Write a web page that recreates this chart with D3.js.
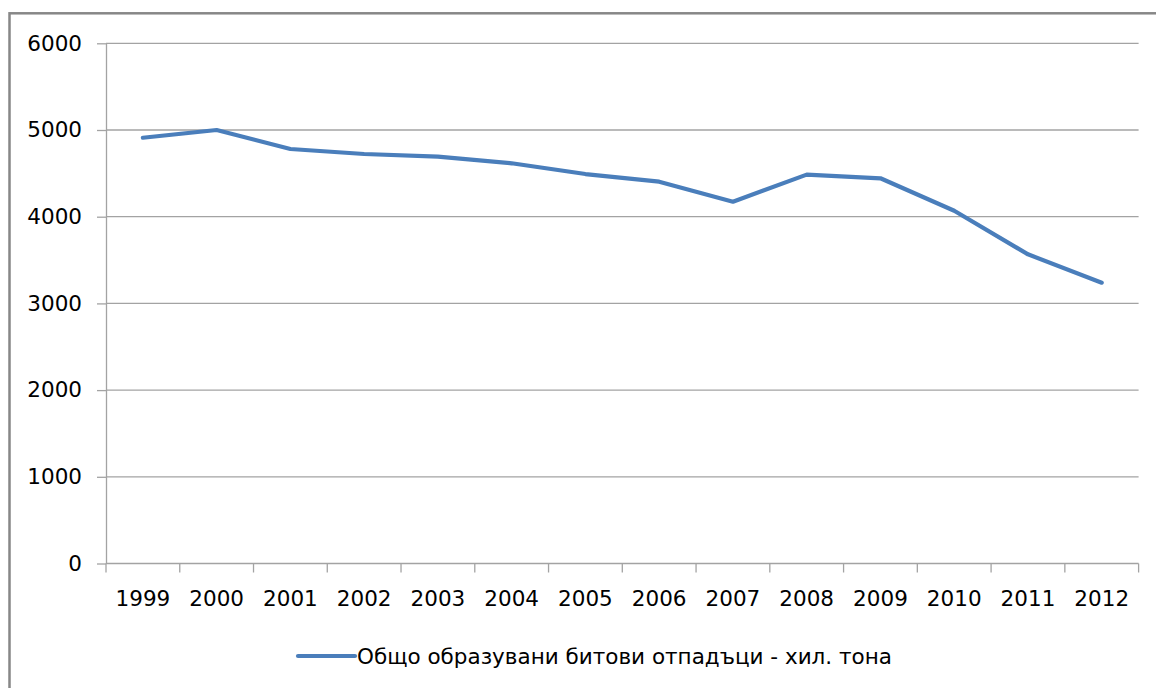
<!DOCTYPE html>
<html>
<head>
<meta charset="utf-8">
<script src="https://cdn.jsdelivr.net/npm/d3@7"></script>
<style>
  html, body { margin: 0; padding: 0; background: #fff; }
  svg { display: block; }
</style>
</head>
<body>
<svg width="1156" height="688"></svg>
<script>
// Years on the category axis
const years = ["1999", "2000", "2001", "2002", "2003", "2004", "2005",
  "2006", "2007", "2008", "2009", "2010", "2011", "2012"];
// Municipal waste generated, thousand tonnes
const wasteKt = [4911, 5000, 4781, 4723, 4692, 4616, 4492,
  4404, 4173, 4485, 4443, 4069, 3566, 3239];
const yTicks = [0, 1000, 2000, 3000, 4000, 5000, 6000];
const seriesName = "Общо образувани битови отпадъци - хил. тона";

const width = 1156;
const height = 688;
const margin = { top: 43.3, right: 17.4, bottom: 124.5, left: 106 };
const font = "DejaVu Sans";
const fontSize = "21.5px";
const lineColor = "#4a7ebb";
const gridColor = "#a3a3a3";

const svg = d3.select("svg");

// chart frame (only top and left edge show in the crop)
svg.append("rect")
  .attr("x", 9.5)
  .attr("y", 13.3)
  .attr("width", width + 20)
  .attr("height", height + 20)
  .attr("fill", "none")
  .attr("stroke", "#878787")
  .attr("stroke-width", 2.5);

const xScale = d3.scaleBand()
  .domain(years)
  .range([margin.left, width - margin.right]);

const yScale = d3.scaleLinear()
  .domain([0, 6000])
  .range([height - margin.bottom, margin.top]);

// horizontal gridlines
svg.append("g")
  .attr("class", "grid")
  .selectAll("line")
  .data(yTicks.filter(t => t > 0))
  .join("line")
  .attr("x1", margin.left)
  .attr("x2", width - margin.right)
  .attr("y1", d => yScale(d))
  .attr("y2", d => yScale(d))
  .attr("stroke", gridColor)
  .attr("stroke-width", 1.3);

// Y axis
const yAxis = svg.append("g")
  .attr("class", "y-axis")
  .attr("transform", `translate(${margin.left},0)`)
  .call(d3.axisLeft(yScale)
    .tickValues(yTicks)
    .tickSize(9)
    .tickPadding(15)
    .tickSizeOuter(0)
    .tickFormat(d3.format("d")));
yAxis.select(".domain").attr("stroke", gridColor).attr("stroke-width", 1.3);
yAxis.selectAll(".tick line").attr("stroke", gridColor).attr("stroke-width", 1.3);
yAxis.selectAll("text")
  .attr("fill", "#000")
  .style("font-family", font)
  .style("font-size", fontSize);

// X axis: labels centred in bands, ticks on band edges
const x0 = yScale(0);
const xAxis = svg.append("g")
  .attr("class", "x-axis")
  .attr("transform", `translate(0,${x0})`)
  .call(d3.axisBottom(xScale).tickSize(0).tickPadding(27));
xAxis.select(".domain").remove();
xAxis.selectAll("text")
  .attr("fill", "#000")
  .style("font-family", font)
  .style("font-size", fontSize);

const edges = years.map(y => xScale(y)).concat([width - margin.right]);
svg.append("line")
  .attr("x1", margin.left)
  .attr("x2", width - margin.right)
  .attr("y1", x0)
  .attr("y2", x0)
  .attr("stroke", gridColor)
  .attr("stroke-width", 1.3);
svg.append("g")
  .selectAll("line")
  .data(edges)
  .join("line")
  .attr("x1", d => d)
  .attr("x2", d => d)
  .attr("y1", x0)
  .attr("y2", x0 + 9)
  .attr("stroke", gridColor)
  .attr("stroke-width", 1.3);

// the series line
const line = d3.line()
  .x((d, i) => xScale(years[i]) + xScale.bandwidth() / 2)
  .y(d => yScale(d));

svg.append("path")
  .datum(wasteKt)
  .attr("d", line)
  .attr("fill", "none")
  .attr("stroke", lineColor)
  .attr("stroke-width", 4.2)
  .attr("stroke-linejoin", "round")
  .attr("stroke-linecap", "round");

// legend
const legend = svg.append("g").attr("transform", "translate(298,656)");
legend.append("line")
  .attr("x1", 0)
  .attr("x2", 57)
  .attr("stroke", lineColor)
  .attr("stroke-width", 4.2)
  .attr("stroke-linecap", "round");
legend.append("text")
  .attr("x", 59)
  .attr("dy", "0.35em")
  .attr("fill", "#000")
  .style("font-family", font)
  .style("font-size", fontSize)
  .text(seriesName);
</script>
</body>
</html>
